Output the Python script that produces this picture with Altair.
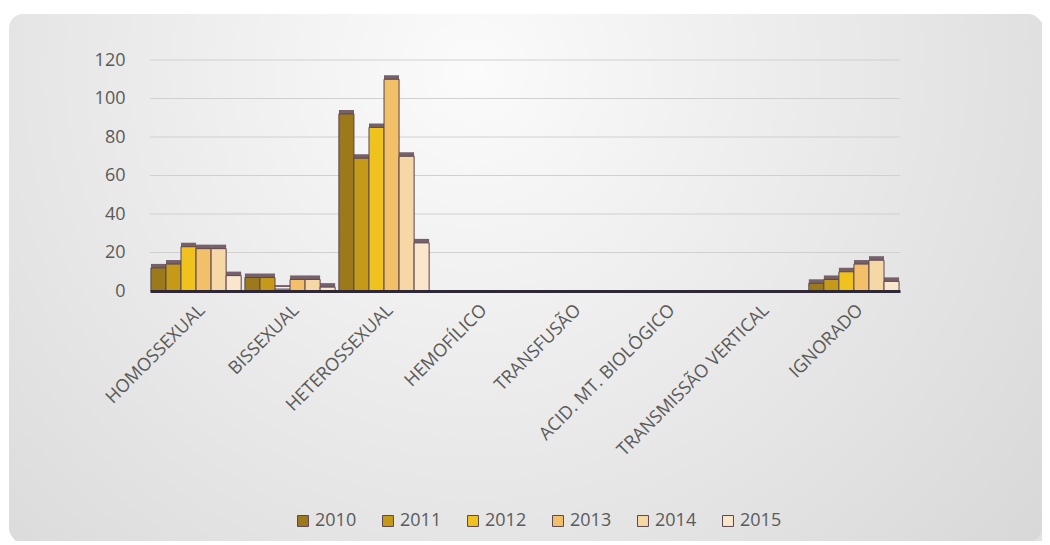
import altair as alt
import pandas as pd

categories = ["HOMOSSEXUAL", "BISSEXUAL", "HETEROSSEXUAL", "HEMOFÍLICO", "TRANSFUSÃO",
              "ACID. MT. BIOLÓGICO", "TRANSMISSÃO VERTICAL", "IGNORADO"]
years = ["2010", "2011", "2012", "2013", "2014", "2015"]
v2010 = [12, 7, 92, 0, 0, 0, 0, 4]
v2011 = [14, 7, 69, 0, 0, 0, 0, 6]
v2012 = [23, 1, 85, 0, 0, 0, 0, 10]
v2013 = [22, 6, 110, 0, 0, 0, 0, 14]
v2014 = [22, 6, 70, 0, 0, 0, 0, 16]
v2015 = [8, 2, 25, 0, 0, 0, 0, 5]
grid_values = [0, 20, 40, 60, 80, 100, 120]
colors = ["#9c7a1c", "#c49a18", "#efc21e", "#f3c06a", "#f6d7a6", "#fae6cc"]

series = [v2010, v2011, v2012, v2013, v2014, v2015]
rows = []
for y, vals in zip(years, series):
    for c, v in zip(categories, vals):
        rows.append({"cat": c, "year": y, "value": v})
df = pd.DataFrame(rows)

W, H = 750, 231
FONT = "Open Sans"

bg_data = pd.DataFrame({"a": [0]})
shadow = alt.Chart(bg_data).mark_rect(cornerRadius=14, color="#cfcfcf", opacity=0.6).encode(
    x=alt.value(-138), x2=alt.value(896), y=alt.value(-42), y2=alt.value(486))
card = alt.Chart(bg_data).mark_rect(
    cornerRadius=14,
    color=alt.RadialGradient(
        gradient="radial",
        stops=[alt.GradientStop(offset=0, color="#fbfbfb"),
               alt.GradientStop(offset=1, color="#d6d6d6")],
        x1=0.45, y1=0.3, x2=0.45, y2=0.3, r1=0, r2=0.75),
).encode(x=alt.value(-141), x2=alt.value(892), y=alt.value(-46), y2=alt.value(482))

yscale = alt.Scale(domain=[0, 120])
yaxis = alt.Axis(title=None, values=grid_values, ticks=False,
                 domain=False, labelPadding=25, labelFont=FONT, labelFontSize=18,
                 labelColor="#5a5a5a", grid=False, zindex=1)

grid = alt.Chart(pd.DataFrame({"g": grid_values[1:]})).mark_rule(
    color="#d0d0d0", strokeWidth=1).encode(
    y=alt.Y("g:Q", scale=yscale, axis=yaxis))

xenc = alt.X("cat:N", sort=categories,
             scale=alt.Scale(paddingInner=0.04, paddingOuter=0.01),
             axis=alt.Axis(title=None, labelAngle=-45, ticks=False, labelPadding=10,
                           labelFont=FONT, labelFontSize=18, labelColor="#5a5a5a",
                           domain=True, domainColor="#2f2836", domainWidth=3,
                           grid=False, labelLimit=300, zindex=1))
yenc = alt.Y("value:Q", scale=yscale, axis=yaxis)

side = alt.Chart(df).mark_bar(xOffset=5, yOffset=-4, color="#75606b").encode(
    x=xenc, y=yenc, xOffset=alt.XOffset("year:N", sort=years))

bars = alt.Chart(df).mark_bar(stroke="#5c4652", strokeWidth=1).encode(
    x=xenc, y=yenc, xOffset=alt.XOffset("year:N", sort=years),
    color=alt.Color("year:N", sort=years,
                    scale=alt.Scale(domain=years, range=colors),
                    legend=alt.Legend(title=None, orient="none", direction="horizontal",
                                      legendX=144, legendY=452, symbolType="square",
                                      symbolSize=120, symbolStrokeColor="#5c4652",
                                      symbolStrokeWidth=1, labelFont=FONT, labelFontSize=18,
                                      labelColor="#5a5a5a", columnPadding=22, labelOffset=3)))

chart = alt.layer(shadow, card, grid, side, bars).properties(
    width=W, height=H,
    autosize=alt.AutoSizeParams(type="none"),
    padding={"left": 142, "top": 52, "right": 142, "bottom": 250},
    background="white",
).configure_view(stroke=None)

chart.save("out.html", embed_options={"renderer": "svg", "actions": False})
